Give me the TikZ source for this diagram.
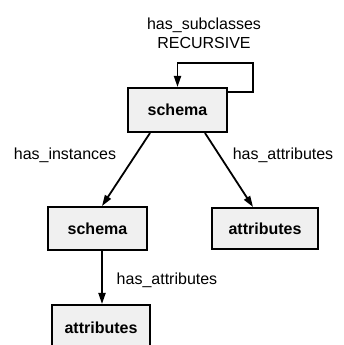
\documentclass[tikz,border=0pt]{standalone}
\usepackage{fontspec}
\setmainfont{Liberation Sans}
\usetikzlibrary{arrows.meta}
\begin{document}
\begin{tikzpicture}[x=1pt,y=1pt,
  box/.style={draw=black, line width=2pt, fill=gray!12, inner sep=0pt,
    font=\fontsize{16}{18}\selectfont\bfseries},
  lbl/.style={font=\fontsize{16}{18}\selectfont, inner sep=0pt},
  conn/.style={line width=1.8pt, -{Triangle[length=11pt,width=7pt]}}]
\useasboundingbox (0,0) rectangle (344,345);
\clip (0,0) rectangle (344,345);
\node[box, minimum width=99pt, minimum height=44pt] (top) at (177.5,235) {schema};
\node[box, minimum width=99pt, minimum height=43pt] (left) at (97.5,116.5) {schema};
\node[box, minimum width=106pt, minimum height=41pt] (right) at (265,116.5) {attributes};
\node[box, minimum width=98pt, minimum height=46pt] (bottom) at (101,17) {attributes};
\node[lbl] (sub) at (204,320) {has\_subclasses};
\node[lbl] (rec) at (204,302) {RECURSIVE};
\node[lbl] (inst) at (65,190) {has\_instances};
\node[lbl] (attr1) at (283,190) {has\_attributes};
\node[lbl] (attr2) at (167,65) {has\_attributes};
\draw[conn] ([yshift=-5pt]top.north east) -- ++(25,0) |- ([yshift=24pt]top.north) -- (top.north);
\draw[conn] ([xshift=-27.5pt]top.south) -- ([xshift=4.5pt]left.north);
\draw[conn] ([xshift=27.5pt]top.south) -- ([xshift=-12pt]right.north);
\draw[conn] ([xshift=4.5pt]left.south) -- ([xshift=1pt]bottom.north);
\end{tikzpicture}
\end{document}
